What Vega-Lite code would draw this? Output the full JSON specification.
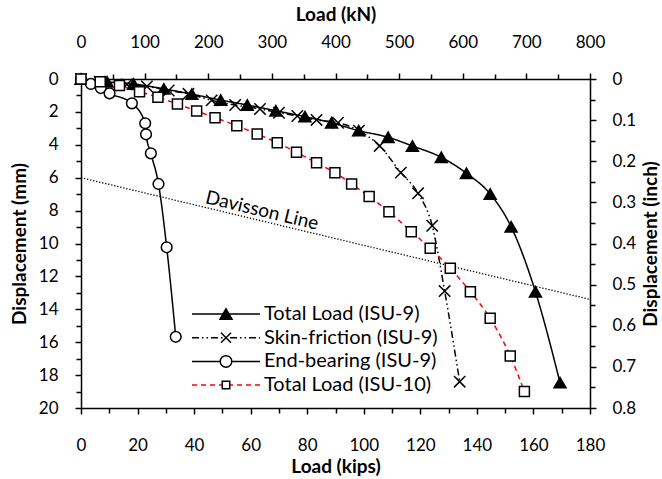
{
  "$schema": "https://vega.github.io/schema/vega-lite/v6.json",
  "width": 509,
  "height": 329,
  "autosize": "none",
  "padding": {"left": 81, "top": 79, "right": 72, "bottom": 71},
  "background": "white",
  "config": {
    "view": {"stroke": null},
    "font": "Lato",
    "axis": {
      "grid": false,
      "domainColor": "black",
      "domainWidth": 1.5,
      "tickColor": "black",
      "tickWidth": 1.5,
      "labelFont": "Lato",
      "labelFontSize": 17,
      "labelColor": "black",
      "labelFlush": false,
      "labelOverlap": false,
      "labelBound": false,
      "titleFont": "Lato",
      "titleFontSize": 19,
      "titleFontWeight": "bold",
      "titleColor": "black"
    },
    "legend": {"padding": 0, "labelFont": "Lato", "labelFontSize": 20, "labelColor": "black", "labelLimit": 400, "symbolOpacity": 1}
  },
  "datasets": {
    "curves": [
      {"series": "Total Load (ISU-9)", "load": 0, "disp": 0},
      {"series": "Total Load (ISU-9)", "load": 9.2, "disp": 0.17},
      {"series": "Total Load (ISU-9)", "load": 18.6, "disp": 0.3},
      {"series": "Total Load (ISU-9)", "load": 29.3, "disp": 0.6},
      {"series": "Total Load (ISU-9)", "load": 39.2, "disp": 0.92},
      {"series": "Total Load (ISU-9)", "load": 49.4, "disp": 1.28},
      {"series": "Total Load (ISU-9)", "load": 58.8, "disp": 1.58},
      {"series": "Total Load (ISU-9)", "load": 68.9, "disp": 1.93},
      {"series": "Total Load (ISU-9)", "load": 79.2, "disp": 2.29},
      {"series": "Total Load (ISU-9)", "load": 88.6, "disp": 2.66},
      {"series": "Total Load (ISU-9)", "load": 98.2, "disp": 3.14},
      {"series": "Total Load (ISU-9)", "load": 108.6, "disp": 3.54},
      {"series": "Total Load (ISU-9)", "load": 117.2, "disp": 4.07},
      {"series": "Total Load (ISU-9)", "load": 127.4, "disp": 4.76},
      {"series": "Total Load (ISU-9)", "load": 136.3, "disp": 5.73},
      {"series": "Total Load (ISU-9)", "load": 144.7, "disp": 6.99},
      {"series": "Total Load (ISU-9)", "load": 152.1, "disp": 8.98},
      {"series": "Total Load (ISU-9)", "load": 160.7, "disp": 12.93},
      {"series": "Total Load (ISU-9)", "load": 169.4, "disp": 18.46},
      {"series": "Skin-friction (ISU-9)", "load": 0, "disp": 0},
      {"series": "Skin-friction (ISU-9)", "load": 6.6, "disp": 0.16},
      {"series": "Skin-friction (ISU-9)", "load": 16.2, "disp": 0.33},
      {"series": "Skin-friction (ISU-9)", "load": 23.3, "disp": 0.45},
      {"series": "Skin-friction (ISU-9)", "load": 31, "disp": 0.7},
      {"series": "Skin-friction (ISU-9)", "load": 38, "disp": 0.9},
      {"series": "Skin-friction (ISU-9)", "load": 46.2, "disp": 1.3},
      {"series": "Skin-friction (ISU-9)", "load": 54.5, "disp": 1.58},
      {"series": "Skin-friction (ISU-9)", "load": 63.3, "disp": 1.82},
      {"series": "Skin-friction (ISU-9)", "load": 70, "disp": 2.05},
      {"series": "Skin-friction (ISU-9)", "load": 76.5, "disp": 2.25},
      {"series": "Skin-friction (ISU-9)", "load": 83.3, "disp": 2.49},
      {"series": "Skin-friction (ISU-9)", "load": 90.9, "disp": 2.66},
      {"series": "Skin-friction (ISU-9)", "load": 98.3, "disp": 3.14},
      {"series": "Skin-friction (ISU-9)", "load": 105.6, "disp": 4.07},
      {"series": "Skin-friction (ISU-9)", "load": 113.1, "disp": 5.69},
      {"series": "Skin-friction (ISU-9)", "load": 119.2, "disp": 6.95},
      {"series": "Skin-friction (ISU-9)", "load": 124.2, "disp": 8.92},
      {"series": "Skin-friction (ISU-9)", "load": 128.6, "disp": 12.89},
      {"series": "Skin-friction (ISU-9)", "load": 133.9, "disp": 18.4},
      {"series": "End-bearing (ISU-9)", "load": 0, "disp": 0},
      {"series": "End-bearing (ISU-9)", "load": 3.5, "disp": 0.3},
      {"series": "End-bearing (ISU-9)", "load": 7, "disp": 0.55},
      {"series": "End-bearing (ISU-9)", "load": 10.1, "disp": 0.87},
      {"series": "End-bearing (ISU-9)", "load": 18, "disp": 1.48},
      {"series": "End-bearing (ISU-9)", "load": 22.7, "disp": 2.69},
      {"series": "End-bearing (ISU-9)", "load": 23, "disp": 3.36},
      {"series": "End-bearing (ISU-9)", "load": 24.7, "disp": 4.52},
      {"series": "End-bearing (ISU-9)", "load": 27.4, "disp": 6.38},
      {"series": "End-bearing (ISU-9)", "load": 30.3, "disp": 10.23},
      {"series": "End-bearing (ISU-9)", "load": 33.5, "disp": 15.67},
      {"series": "Total Load (ISU-10)", "load": 0, "disp": 0},
      {"series": "Total Load (ISU-10)", "load": 6.8, "disp": 0.16},
      {"series": "Total Load (ISU-10)", "load": 13.6, "disp": 0.4},
      {"series": "Total Load (ISU-10)", "load": 20.7, "disp": 0.77},
      {"series": "Total Load (ISU-10)", "load": 27.2, "disp": 1.11},
      {"series": "Total Load (ISU-10)", "load": 34.1, "disp": 1.52},
      {"series": "Total Load (ISU-10)", "load": 40.9, "disp": 1.95},
      {"series": "Total Load (ISU-10)", "load": 47.4, "disp": 2.35},
      {"series": "Total Load (ISU-10)", "load": 55.1, "disp": 2.84},
      {"series": "Total Load (ISU-10)", "load": 62.3, "disp": 3.34},
      {"series": "Total Load (ISU-10)", "load": 69.4, "disp": 3.87},
      {"series": "Total Load (ISU-10)", "load": 76.2, "disp": 4.46},
      {"series": "Total Load (ISU-10)", "load": 83.3, "disp": 5.09},
      {"series": "Total Load (ISU-10)", "load": 89.8, "disp": 5.7},
      {"series": "Total Load (ISU-10)", "load": 95.7, "disp": 6.38},
      {"series": "Total Load (ISU-10)", "load": 101.9, "disp": 7.15},
      {"series": "Total Load (ISU-10)", "load": 108.9, "disp": 8.07},
      {"series": "Total Load (ISU-10)", "load": 116.8, "disp": 9.28},
      {"series": "Total Load (ISU-10)", "load": 123.5, "disp": 10.29},
      {"series": "Total Load (ISU-10)", "load": 130.6, "disp": 11.51},
      {"series": "Total Load (ISU-10)", "load": 137.7, "disp": 12.93},
      {"series": "Total Load (ISU-10)", "load": 144.7, "disp": 14.55},
      {"series": "Total Load (ISU-10)", "load": 151.8, "disp": 16.84},
      {"series": "Total Load (ISU-10)", "load": 156.8, "disp": 19.0}
    ],
    "davisson": [
      {"load": 0, "disp": 6.0},
      {"load": 180, "disp": 13.4}
    ],
    "note": [
      {"load": 64, "disp": 8.0, "text": "Davisson Line"}
    ]
  },
  "layer": [
    {
      "data": {"name": "davisson"},
      "mark": {"type": "line", "color": "black", "strokeWidth": 1.3, "strokeDash": [1.3, 1.8]},
      "encoding": {
        "x": {"field": "load", "type": "quantitative", "scale": {"domain": [0, 180], "nice": false, "zero": false},
              "axis": {"orient": "bottom", "title": null, "values": [10, 30, 50, 70, 90, 110, 130, 150, 170], "labels": false, "domain": false, "tickSize": 5}},
        "y": {"field": "disp", "type": "quantitative", "scale": {"domain": [0, 20], "reverse": true, "nice": false, "zero": false},
              "axis": {"orient": "left", "title": null, "values": [1, 3, 5, 7, 9, 11, 13, 15, 17, 19], "labels": false, "domain": false, "tickSize": 5}}
      }
    },
    {
      "data": {"name": "note"},
      "mark": {"type": "text", "angle": 13.5, "fontSize": 19, "font": "Lato", "color": "black", "align": "center", "baseline": "middle"},
      "encoding": {
        "x": {"field": "load", "type": "quantitative", "scale": {"domain": [0, 180], "nice": false, "zero": false},
              "axis": {"orient": "top", "title": null, "values": [11.25, 33.75, 56.25, 78.75, 101.25, 123.75, 146.25, 168.75], "labels": false, "domain": false, "tickSize": 5}},
        "y": {"field": "disp", "type": "quantitative", "scale": {"domain": [0, 20], "reverse": true, "nice": false, "zero": false},
              "axis": {"orient": "right", "title": null, "values": [1.25, 3.75, 6.25, 8.75, 11.25, 13.75, 16.25, 18.75], "labels": false, "domain": false, "tickSize": 5}},
        "text": {"field": "text"}
      }
    },
    {
      "data": {"name": "curves"},
      "mark": {"type": "line", "strokeWidth": 1.5, "interpolate": "monotone"},
      "encoding": {
        "x": {"field": "load", "type": "quantitative", "scale": {"domain": [0, 180], "nice": false, "zero": false},
              "axis": {"orient": "bottom", "title": "Load (kips)", "values": [0, 20, 40, 60, 80, 100, 120, 140, 160, 180], "tickSize": 6, "labelPadding": 23, "titlePadding": 4}},
        "y": {"field": "disp", "type": "quantitative", "scale": {"domain": [0, 20], "reverse": true, "nice": false, "zero": false},
              "axis": {"orient": "left", "title": "Displacement (mm)", "values": [0, 2, 4, 6, 8, 10, 12, 14, 16, 18, 20], "tickSize": 6, "labelPadding": 17, "titlePadding": 9}},
        "color": {"field": "series", "type": "nominal", "legend": null,
                  "scale": {"domain": ["Total Load (ISU-9)", "Skin-friction (ISU-9)", "End-bearing (ISU-9)", "Total Load (ISU-10)"], "range": ["black", "black", "black", "red"]}},
        "strokeDash": {"field": "series", "type": "nominal", "legend": null,
                  "scale": {"domain": ["Total Load (ISU-9)", "Skin-friction (ISU-9)", "End-bearing (ISU-9)", "Total Load (ISU-10)"], "range": [[1, 0], [7, 3, 1.5, 3, 1.5, 3], [1, 0], [5, 4]]}}
      }
    },
    {
      "data": {"name": "curves"},
      "mark": {"type": "point", "filled": true, "stroke": "black", "strokeWidth": 1.5, "opacity": 1},
      "encoding": {
        "x": {"field": "load", "type": "quantitative", "scale": {"domain": [0, 180], "nice": false, "zero": false},
              "axis": {"orient": "top", "title": "Load (kN)", "values": [0, 22.5, 45, 67.5, 90, 112.5, 135, 157.5, 180], "labelExpr": "format(datum.value / 0.225, '.0f')", "tickSize": 6, "labelPadding": 22, "titlePadding": 9}},
        "y": {"field": "disp", "type": "quantitative", "scale": {"domain": [0, 20], "reverse": true, "nice": false, "zero": false},
              "axis": {"orient": "right", "title": "Displacement (inch)", "titleAngle": 270, "titleBaseline": "top", "values": [0, 2.5, 5, 7.5, 10, 12.5, 15, 17.5, 20], "labelExpr": "datum.value == 0 ? '0' : format(datum.value / 25, '.1f')", "tickSize": 6, "labelPadding": 16, "titlePadding": 6}},
        "shape": {"field": "series", "type": "nominal", "legend": null,
                  "scale": {"domain": ["Total Load (ISU-9)", "Skin-friction (ISU-9)", "End-bearing (ISU-9)", "Total Load (ISU-10)"], "range": ["triangle-up", "M-1,-1L1,1M-1,1L1,-1", "circle", "square"]}},
        "fill": {"field": "series", "type": "nominal", "legend": null,
                  "scale": {"domain": ["Total Load (ISU-9)", "Skin-friction (ISU-9)", "End-bearing (ISU-9)", "Total Load (ISU-10)"], "range": ["black", "transparent", "white", "white"]}},
        "size": {"field": "series", "type": "nominal", "legend": null,
                  "scale": {"domain": ["Total Load (ISU-9)", "Skin-friction (ISU-9)", "End-bearing (ISU-9)", "Total Load (ISU-10)"], "range": [144, 100, 132, 56]}}
      }
    },
    {
      "data": {"name": "curves"},
      "mark": {"type": "point", "filled": false, "strokeWidth": 1.5, "opacity": 0},
      "encoding": {
        "color": {"field": "series", "type": "nominal",
                  "scale": {"domain": ["Total Load (ISU-9)", "Skin-friction (ISU-9)", "End-bearing (ISU-9)", "Total Load (ISU-10)"], "range": ["black", "black", "black", "red"]},
                  "legend": {"orient": "none", "legendX": 135, "legendY": 225, "title": null, "symbolType": "M-8.5,0H8.5", "symbolSize": 64, "symbolStrokeWidth": 1.5, "symbolOpacity": 1, "labelOffset": 28, "rowPadding": 3.7}},
        "strokeDash": {"field": "series", "type": "nominal",
                  "scale": {"domain": ["Total Load (ISU-9)", "Skin-friction (ISU-9)", "End-bearing (ISU-9)", "Total Load (ISU-10)"], "range": [[1, 0], [7, 3, 1.5, 3, 1.5, 3], [1, 0], [5, 4]]},
                  "legend": {"orient": "none", "legendX": 135, "legendY": 225, "title": null, "symbolType": "M-8.5,0H8.5", "symbolSize": 64, "symbolStrokeWidth": 1.5, "symbolOpacity": 1, "labelOffset": 28, "rowPadding": 3.7}}
      }
    },
    {
      "data": {"name": "curves"},
      "mark": {"type": "point", "filled": true, "strokeWidth": 1.5, "opacity": 0},
      "encoding": {
        "shape": {"field": "series", "type": "nominal",
                  "scale": {"domain": ["Total Load (ISU-9)", "Skin-friction (ISU-9)", "End-bearing (ISU-9)", "Total Load (ISU-10)"], "range": ["M0,-1.3L1.5,1.3H-1.5Z", "M-1.25,-1.25L1.25,1.25M-1.25,1.25L1.25,-1.25", "M1.44,0A1.44,1.44,0,1,1,-1.44,0A1.44,1.44,0,1,1,1.44,0Z", "M-0.94,-0.94H0.94V0.94H-0.94Z"]},
                  "legend": {"orient": "none", "legendX": 135, "legendY": 225, "title": null, "symbolSize": 64, "symbolStrokeWidth": 1.5, "symbolOpacity": 1, "labelOpacity": 0, "labelOffset": 28, "rowPadding": 3.7}},
        "fill": {"field": "series", "type": "nominal",
                  "scale": {"domain": ["Total Load (ISU-9)", "Skin-friction (ISU-9)", "End-bearing (ISU-9)", "Total Load (ISU-10)"], "range": ["black", "transparent", "white", "white"]},
                  "legend": {"orient": "none", "legendX": 135, "legendY": 225, "title": null, "symbolSize": 64, "symbolStrokeWidth": 1.5, "symbolOpacity": 1, "labelOpacity": 0, "labelOffset": 28, "rowPadding": 3.7}},
        "stroke": {"field": "series", "type": "nominal",
                  "scale": {"domain": ["Total Load (ISU-9)", "Skin-friction (ISU-9)", "End-bearing (ISU-9)", "Total Load (ISU-10)"], "range": ["black", "black", "black", "black"]},
                  "legend": {"orient": "none", "legendX": 135, "legendY": 225, "title": null, "symbolSize": 64, "symbolStrokeWidth": 1.5, "symbolOpacity": 1, "labelOpacity": 0, "labelOffset": 28, "rowPadding": 3.7}}
      }
    }
  ],
  "resolve": {
    "axis": {"x": "independent", "y": "independent"},
    "scale": {"color": "independent", "strokeDash": "independent", "shape": "independent", "fill": "independent", "stroke": "independent", "size": "independent"}
  }
}
